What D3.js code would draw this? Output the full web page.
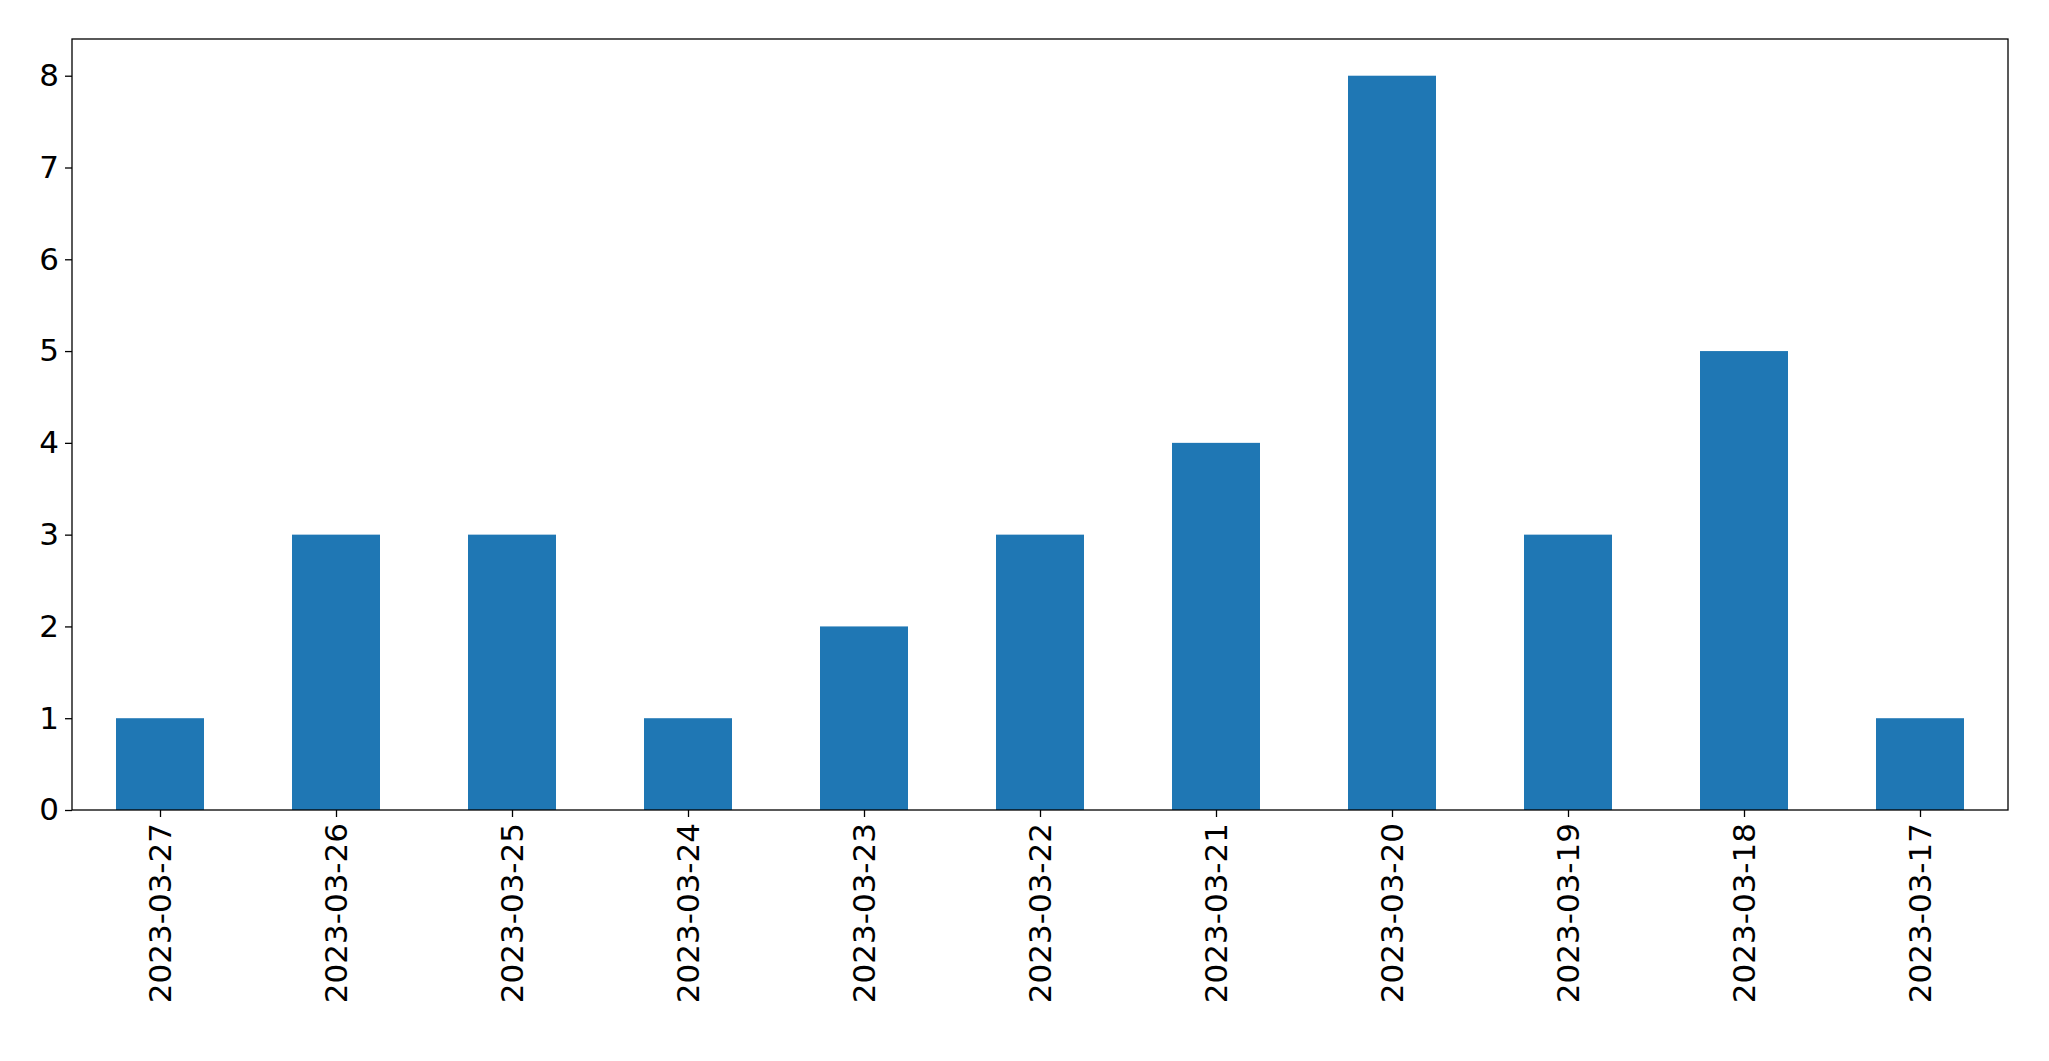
<!DOCTYPE html>
<html><head><meta charset="utf-8">
<script src="https://cdn.jsdelivr.net/npm/d3@7"></script>
<style>body{margin:0;background:#fff}</style>
</head><body>
<svg id="c" width="2049" height="1061"></svg>
<script>
const categories = ["2023-03-27","2023-03-26","2023-03-25","2023-03-24","2023-03-23","2023-03-22","2023-03-21","2023-03-20","2023-03-19","2023-03-18","2023-03-17"];
const values = [1,3,3,1,2,3,4,8,3,5,1];
const yTicks = [0,1,2,3,4,5,6,7,8];

const L=72,R=2008,T=39,B=810;
const svg=d3.select("#c");
const x=d3.scaleLinear().domain([-0.5,categories.length-0.5]).range([L,R]);
const y=d3.scaleLinear().domain([0,8.4]).range([B,T]);
const font="DejaVu Sans";

svg.selectAll("rect.bar").data(values).enter().append("rect")
 .attr("x",(d,i)=>x(i-0.25)).attr("width",(d,i)=>x(i+0.25)-x(i-0.25))
 .attr("y",d=>y(d)).attr("height",d=>B-y(d)).attr("fill","#1f77b4");

const ya=svg.append("g").attr("transform",`translate(${L},0)`)
 .call(d3.axisLeft(y).tickValues(yTicks).tickFormat(d3.format("d")).tickSize(7).tickPadding(6));
const xa=svg.append("g").attr("transform",`translate(0,${B})`)
 .call(d3.axisBottom(x).tickValues(d3.range(categories.length)).tickFormat(i=>categories[i]).tickSize(7).tickPadding(6));
[ya,xa].forEach(g=>{g.select(".domain").remove();g.selectAll("line").attr("stroke","#000").attr("stroke-width",1.3);
 g.selectAll("text").attr("font-family",font).attr("font-size",31).attr("fill","#000");});
xa.selectAll("text").attr("transform","rotate(-90)").attr("text-anchor","end")
 .attr("x",-13).attr("y",0).attr("dy","0.35em");
svg.append("rect").attr("x",L).attr("y",T).attr("width",R-L).attr("height",B-T)
 .attr("fill","none").attr("stroke","#000").attr("stroke-width",1.3);
</script>
</body></html>
